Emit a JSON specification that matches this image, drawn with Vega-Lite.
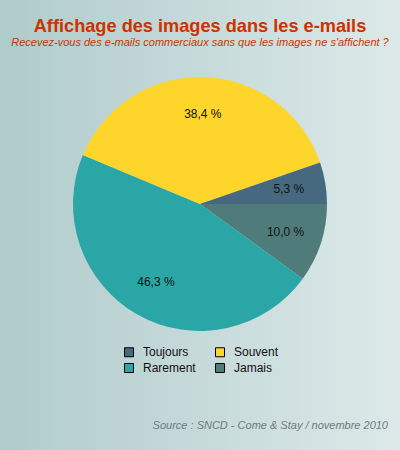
{
  "$schema": "https://vega.github.io/schema/vega-lite/v6.json",
  "width": 400,
  "height": 450,
  "autosize": {"type": "none"},
  "padding": 0,
  "background": "#c6dada",
  "config": {
    "view": {
      "stroke": null,
      "fill": {
        "gradient": "linear",
        "x1": 0, "y1": 0, "x2": 1, "y2": 0,
        "stops": [
          {"offset": 0, "color": "#b0cbcb"},
          {"offset": 1, "color": "#dde9e9"}
        ]
      }
    },
    "font": "Liberation Sans"
  },
  "title": {
    "text": "Affichage des images dans les e-mails",
    "subtitle": "Recevez-vous des e-mails commerciaux sans que les images ne s'affichent ?",
    "color": "#cc3300",
    "subtitleColor": "#cc3300",
    "font": "Liberation Sans",
    "fontSize": 18.2,
    "fontWeight": "bold",
    "subtitleFont": "Liberation Sans",
    "subtitleFontSize": 11,
    "subtitleFontStyle": "italic",
    "anchor": "middle",
    "offset": -49,
    "subtitlePadding": 1
  },
  "datasets": {
    "shares": [
      {"cat": "Jamais", "value": 10.0, "label": "10,0 %", "ord": 1},
      {"cat": "Rarement", "value": 46.3, "label": "46,3 %", "ord": 2},
      {"cat": "Souvent", "value": 38.4, "label": "38,4 %", "ord": 3},
      {"cat": "Toujours", "value": 5.3, "label": "5,3 %", "ord": 4}
    ],
    "source": [
      {"text": "Source : SNCD - Come & Stay / novembre 2010"}
    ]
  },
  "layer": [
    {
      "data": {"name": "shares"},
      "mark": {"type": "arc", "outerRadius": 127, "stroke": null},
      "encoding": {
        "theta": {"field": "value", "type": "quantitative", "stack": true, "scale": {"range": [1.5707963, 7.8539816]}},
        "order": {"field": "ord", "type": "quantitative"},
        "y": {"value": 204},
        "color": {
          "field": "cat",
          "type": "nominal",
          "scale": {
            "domain": ["Toujours", "Rarement", "Souvent", "Jamais"],
            "range": ["#46697f", "#2aa6a6", "#fdd52b", "#4f7b7a"]
          },
          "legend": {
            "orient": "none",
            "legendX": 123,
            "legendY": 346,
            "columns": 2,
            "title": null,
            "symbolType": "square",
            "symbolSize": 81,
            "symbolStrokeColor": "#000000",
            "symbolStrokeWidth": 1,
            "symbolOpacity": 1,
            "labelFont": "Liberation Sans",
            "labelFontSize": 12,
            "labelColor": "#111111",
            "labelOffset": 8,
            "columnPadding": 17,
            "rowPadding": 2,
            "padding": 0
          }
        }
      }
    },
    {
      "data": {"name": "shares"},
      "mark": {"type": "text", "radius": 90, "fontSize": 12, "font": "Liberation Sans", "color": "#111111", "align": "center", "baseline": "middle"},
      "encoding": {
        "theta": {"field": "value", "type": "quantitative", "stack": true, "scale": {"range": [1.5707963, 7.8539816]}},
        "order": {"field": "ord", "type": "quantitative"},
        "y": {"value": 204},
        "text": {"field": "label", "type": "nominal"}
      }
    },
    {
      "data": {"name": "source"},
      "mark": {"type": "text", "align": "right", "baseline": "alphabetic", "fontSize": 11, "fontStyle": "italic", "font": "Liberation Sans", "color": "#6e7b7b"},
      "encoding": {
        "x": {"value": 388},
        "y": {"value": 429},
        "text": {"field": "text", "type": "nominal"}
      }
    }
  ]
}
